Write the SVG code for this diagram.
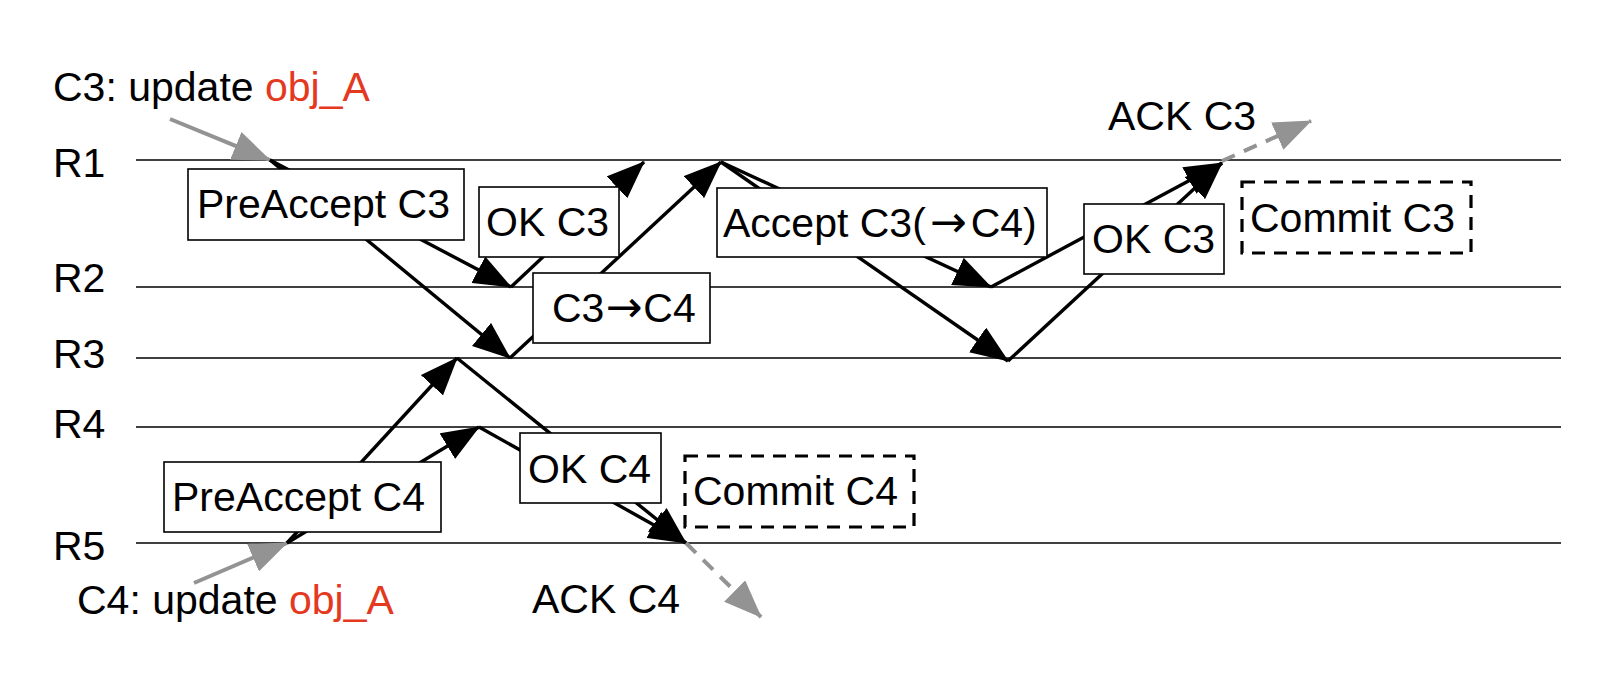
<svg xmlns="http://www.w3.org/2000/svg" width="1600" height="678" viewBox="0 0 1600 678">
<style>
text{font-family:"Liberation Sans",Arial,Helvetica,sans-serif;font-size:41px;fill:#000}
.arr{font-family:"DejaVu Sans",sans-serif;font-size:44px}
.red{fill:#e5391f}
.lane{stroke:#000;stroke-width:1.6}
.msg{stroke:#000;stroke-width:3.4;fill:none}
.gray{stroke:#939393;stroke-width:4;fill:none}
.gdash{stroke:#939393;stroke-width:4;fill:none;stroke-dasharray:14 10}
.box{fill:#fff;stroke:#000;stroke-width:1.6}
.dbox{fill:#fff;stroke:#000;stroke-width:3.2;stroke-dasharray:13 9}
</style>
<defs>
<marker id="ah" markerUnits="userSpaceOnUse" markerWidth="38" markerHeight="30" refX="37" refY="15" orient="auto">
<path d="M0,0 L38,15 L0,30 z" fill="#000"/>
</marker>
<marker id="gh" markerUnits="userSpaceOnUse" markerWidth="38" markerHeight="30" refX="37" refY="15" orient="auto">
<path d="M0,0 L38,15 L0,30 z" fill="#939393"/>
</marker>
</defs>
<rect width="1600" height="678" fill="#fff"/>
<g id="lanes">
<line class="lane" x1="136" y1="160" x2="1561" y2="160"/>
<line class="lane" x1="136" y1="287" x2="1561" y2="287"/>
<line class="lane" x1="136" y1="358" x2="1561" y2="358"/>
<line class="lane" x1="136" y1="427" x2="1561" y2="427"/>
<line class="lane" x1="136" y1="543" x2="1561" y2="543"/>
<text x="53" y="177">R1</text>
<text x="53" y="292">R2</text>
<text x="53" y="368">R3</text>
<text x="53" y="438">R4</text>
<text x="53" y="560">R5</text>
</g>
<g id="connectors">
<line class="gray" x1="170" y1="119" x2="270" y2="160" marker-end="url(#gh)"/>
<line class="msg" x1="270" y1="160" x2="511" y2="287" marker-end="url(#ah)"/>
<line class="msg" x1="270" y1="160" x2="510" y2="358" marker-end="url(#ah)"/>
<line class="msg" x1="511" y1="287" x2="644" y2="162" marker-end="url(#ah)"/>
<line class="msg" x1="510" y1="358" x2="721" y2="162" marker-end="url(#ah)"/>
<line class="msg" x1="721" y1="162" x2="991" y2="287" marker-end="url(#ah)"/>
<line class="msg" x1="721" y1="162" x2="1008" y2="361" marker-end="url(#ah)"/>
<line class="msg" x1="991" y1="287" x2="1222" y2="163" marker-end="url(#ah)"/>
<line class="msg" x1="1008" y1="361" x2="1222" y2="163" marker-end="url(#ah)"/>
<line class="gdash" x1="1222" y1="161" x2="1311" y2="121" marker-end="url(#gh)"/>
<line class="gray" x1="194" y1="583" x2="287" y2="543" marker-end="url(#gh)"/>
<line class="msg" x1="287" y1="543" x2="457" y2="358" marker-end="url(#ah)"/>
<line class="msg" x1="287" y1="543" x2="479" y2="427" marker-end="url(#ah)"/>
<line class="msg" x1="457" y1="358" x2="686" y2="543" marker-end="url(#ah)"/>
<line class="msg" x1="479" y1="427" x2="686" y2="543" marker-end="url(#ah)"/>
<line class="gdash" x1="686" y1="543" x2="761" y2="617" marker-end="url(#gh)"/>
</g>
<g id="label-c3"><text x="53" y="101">C3: update <tspan class="red">obj_A</tspan></text></g>
<g id="label-c4"><text x="77" y="614">C4: update <tspan class="red">obj_A</tspan></text></g>
<g id="label-ack-c3"><text x="1108" y="130">ACK C3</text></g>
<g id="label-ack-c4"><text x="532" y="613">ACK C4</text></g>
<g id="preaccept-c3"><rect class="box" x="188" y="169" width="276" height="71"/><text x="197" y="218">PreAccept C3</text></g>
<g id="ok-c3-a"><rect class="box" x="479" y="187" width="140" height="70"/><text x="486" y="236">OK C3</text></g>
<g id="c3-c4"><rect class="box" x="533" y="273" width="177" height="70"/><text x="552" y="322">C3<tspan class="arr" dx="1">→</tspan><tspan dx="1">C4</tspan></text></g>
<g id="accept-c3"><rect class="box" x="717" y="188" width="330" height="69"/><text x="723" y="237">Accept C3(<tspan class="arr" dx="4">→</tspan><tspan dx="4">C4)</tspan></text></g>
<g id="ok-c3-b"><rect class="box" x="1084" y="204" width="140" height="70"/><text x="1092" y="253">OK C3</text></g>
<g id="commit-c3"><rect class="dbox" x="1242" y="182" width="229" height="71"/><text x="1250" y="232">Commit C3</text></g>
<g id="preaccept-c4"><rect class="box" x="164" y="462" width="277" height="70"/><text x="172" y="511">PreAccept C4</text></g>
<g id="ok-c4"><rect class="box" x="520" y="433" width="141" height="70"/><text x="528" y="483">OK C4</text></g>
<g id="commit-c4"><rect class="dbox" x="685" y="456" width="229" height="71"/><text x="693" y="505">Commit C4</text></g>
</svg>
